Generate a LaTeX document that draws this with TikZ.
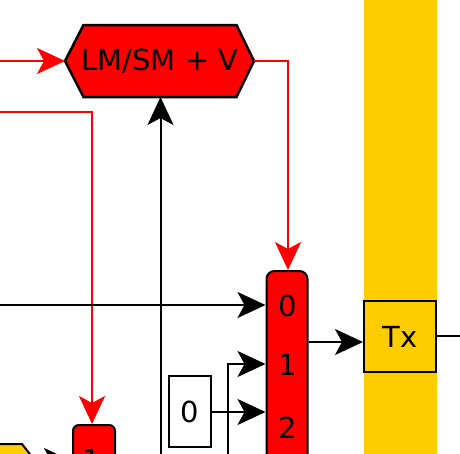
\documentclass[tikz,border=0pt]{standalone}
\usepackage{fontspec}
\setmainfont{DejaVu Sans}
\usetikzlibrary{arrows.meta}
\definecolor{myred}{HTML}{FF0000}
\definecolor{myyel}{HTML}{FFCC00}
\tikzset{
  tip/.style={-{Stealth[length=28pt,width=26pt,inset=7pt]}},
  wire/.style={line width=2pt, draw=black, tip},
  redwire/.style={line width=2pt, draw=myred, tip},
  redbox/.style={draw=black, fill=myred, line width=2pt, rounded corners=8pt, inner sep=0pt},
  plainbox/.style={draw=black, fill=white, line width=2pt, inner sep=0pt},
  yelbox/.style={draw=black, fill=myyel, line width=2pt, inner sep=0pt},
  lbl/.style={inner sep=0pt, text=black}
}
\begin{document}
\begin{tikzpicture}[x=1pt, y=-1pt, font=\fontsize{29}{33}\selectfont]
\useasboundingbox (0,0) rectangle (460,453);
\clip (0,0) rectangle (460,453);
% yellow band
\fill[myyel] (364,-10) rectangle (437,470);
% hexagon
\filldraw[fill=myred, draw=black, line width=2.5pt]
  (65,61) -- (83.5,25) -- (236.5,25) -- (254,61) -- (236.5,97) -- (83.5,97) -- cycle;
\node[lbl] (hex) at (160,61) {LM/SM + V};
\coordinate (hexW) at (65,61);
\coordinate (hexE) at (254,61);
\coordinate (hexS) at (160.5,97);
% mux
\node[redbox, minimum width=41pt, minimum height=260pt, anchor=north] (mux) at (287,270) {};
\node[lbl] (m0) at (288,306) {0};
\node[lbl] (m1) at (288,365) {1};
\node[lbl] (m2) at (288,428) {2};
% constant 0 box
\node[plainbox, minimum width=41.5pt, minimum height=71pt] (zero) at (190,411.5) {0};
% Tx
\node[yelbox, minimum width=72pt, minimum height=71.5pt] (tx) at (400,336.5) {Tx};
% bottom-left red box
\node[redbox, rounded corners=6pt, minimum width=42pt, minimum height=80pt, anchor=north west] (mux2) at (72,424) {};
\node[lbl] (m20) at (92,460) {1};
% bottom-left yellow shape
\filldraw[fill=myyel, draw=black, line width=2pt] (-10,444) -- (22,444) -- (36,462) -- (22,480) -- (-10,480) -- cycle;
\coordinate (ylwE) at (36,461);
% free ends
\coordinate (srcA) at (0,61);
\coordinate (srcB) at (0,112);
\coordinate (bendB) at (92,112);
\coordinate (bendC) at (288,61);
\coordinate (srcD) at (0,305);
\coordinate (srcE) at (160.5,470);
\coordinate (srcF) at (228,470);
\coordinate (bendF) at (228,364);
\coordinate (outTx) at (470,336);
% red wires
\draw[redwire] (srcA) -- (hexW);
\draw[redwire] (hexE) -- (bendC) -- (bendC |- mux.north);
\draw[redwire] (srcB) -- (bendB) -- (bendB |- mux2.north);
% black wires
\draw[wire] (srcE) -- (hexS);
\draw[wire] (srcD) -- (mux.west |- srcD);
\draw[wire] (srcF) -- (bendF) -- (mux.west |- bendF);
\draw[wire] (zero.east |- 0,412) -- (mux.west |- 0,412);
\draw[wire] (mux.east |- 0,342) -- (tx.west |- 0,342);
\draw[line width=2pt] (tx.east |- outTx) -- (outTx);
\draw[wire] (ylwE) -- (mux2.west |- ylwE);
\end{tikzpicture}
\end{document}
